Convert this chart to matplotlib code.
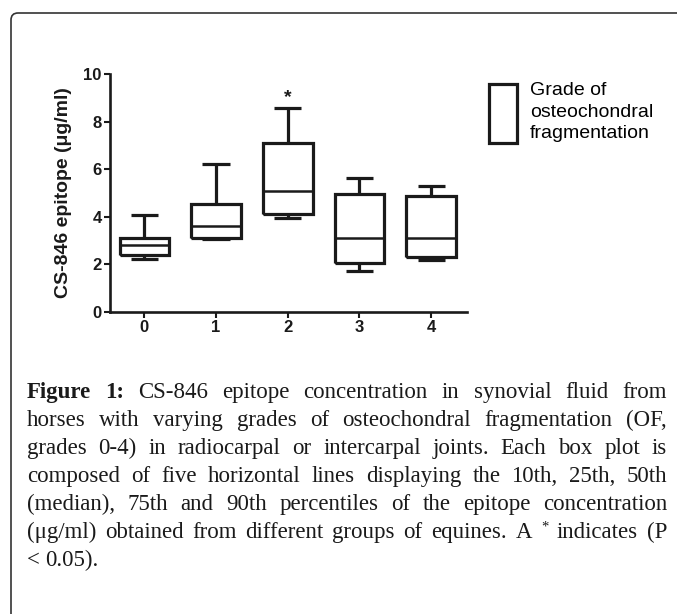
import matplotlib
matplotlib.use("Agg")
import matplotlib.pyplot as plt
from matplotlib.patches import FancyBboxPatch, Patch

###### DATA ######
grades = ['0', '1', '2', '3', '4']
p10 = [2.24, 3.08, 3.96, 1.74, 2.20]
p25 = [2.38, 3.11, 4.12, 2.04, 2.32]
p50 = [2.80, 3.60, 5.07, 3.11, 3.11]
p75 = [3.10, 4.52, 7.10, 4.97, 4.87]
p90 = [4.08, 6.23, 8.57, 5.63, 5.28]
significant = ['', '', '*', '', '']

y_ticks = [0, 2, 4, 6, 8, 10]
y_label = 'CS-846 epitope (\u03bcg/ml)'
legend_label = 'Grade of\nosteochondral\nfragmentation'

caption_lines = [
    'Figure 1: CS-846 epitope concentration in synovial fluid from',
    'horses with varying grades of osteochondral fragmentation (OF,',
    'grades 0-4) in radiocarpal or intercarpal joints. Each box plot is',
    'composed of five horizontal lines displaying the 10th, 25th, 50th',
    '(median), 75th and 90th percentiles of the epitope concentration',
    '(\u03bcg/ml) obtained from different groups of equines. A * indicates (P',
    '< 0.05).',
]

INK = '#1a1a1a'
W, H = 677, 614

###### FIGURE ######
fig = plt.figure(figsize=(W / 100, H / 100), dpi=100)
fig.patch.set_facecolor('white')

# outer rounded frame (pixel coords, cut by right/bottom edge)
frame = FancyBboxPatch((11, -30), 720, H - 13 + 30,
                       boxstyle='round,pad=0,rounding_size=7',
                       transform=None, fill=False, edgecolor='#333333', lw=1.2)
fig.patches.append(frame)

# axes placed in pixels
ax_l, ax_r, ax_b, ax_t = 110, 467, 312, 74
ax = fig.add_axes([ax_l / W, 1 - ax_b / H, (ax_r - ax_l) / W, (ax_b - ax_t) / H])

stats = []
for g, lo, q1, med, q3, hi in zip(grades, p10, p25, p50, p75, p90):
    stats.append(dict(label=g, whislo=lo, q1=q1, med=med, q3=q3, whishi=hi))

line_kw = dict(color=INK, lw=2.3, solid_capstyle='butt', solid_joinstyle='miter')
ax.bxp(stats, positions=range(len(grades)), widths=0.69, capwidths=0.38,
       showfliers=False,
       boxprops=line_kw, whiskerprops=line_kw, capprops=line_kw,
       medianprops=dict(color=INK, lw=1.8))

for i, mark in enumerate(significant):
    if mark:
        ax.text(i, p90[i] + 0.1, mark, ha='center', va='bottom',
                fontsize=14, fontweight='bold', color=INK, family='Liberation Sans')

ax.set_xlim(-0.48, 4.5)
ax.set_ylim(0, 10)
ax.set_yticks(y_ticks)
for side in ['top', 'right']:
    ax.spines[side].set_visible(False)
for side in ['left', 'bottom']:
    ax.spines[side].set_linewidth(1.9)
    ax.spines[side].set_color(INK)
ax.tick_params(direction='out', length=4.5, width=1.5, color=INK, pad=1.5)
for lab in ax.get_xticklabels() + ax.get_yticklabels():
    lab.set_fontsize(12)
    lab.set_fontweight('bold')
    lab.set_family('Liberation Sans')
    lab.set_color(INK)

ax.set_ylabel(y_label, fontsize=14, fontweight='bold', family='Liberation Sans',
              color=INK, va='center')
ax.yaxis.set_label_coords((63 - ax_l) / (ax_r - ax_l), 0.5)

# legend
leg = fig.legend(handles=[Patch(facecolor='white', edgecolor=INK, lw=2.3)],
                 labels=[legend_label], loc='upper left',
                 bbox_to_anchor=(489 / W, 1 - 82 / H), frameon=False,
                 handlelength=1.44, handleheight=4.3, handletextpad=0.67,
                 borderpad=0, borderaxespad=0,
                 prop=dict(family='Liberation Sans', size=14))
leg.get_texts()[0].set_linespacing(1.35)

###### CAPTION (justified) ######
renderer = fig.canvas.get_renderer()
cap_x0, cap_x1 = 27, 667
base0, gap = 398, 28
cap_kw = dict(family='Liberation Serif', color=INK)

for i, line in enumerate(caption_lines):
    y = 1 - (base0 + i * gap) / H
    words = line.split(' ')
    texts = []
    for j, w in enumerate(words):
        kw = dict(cap_kw, fontsize=16.5)
        yy = y
        if i == 0 and j < 2:
            kw['fontweight'] = 'bold'
        if w == '*':
            kw['fontsize'] = 10.5
            yy = y + 7 / H
        texts.append(fig.text(cap_x0 / W, yy, w, va='baseline', ha='left', **kw))
    widths = [t.get_window_extent(renderer).width for t in texts]
    last = i == len(caption_lines) - 1
    if last or len(words) == 1:
        space = 5
    else:
        space = (cap_x1 - cap_x0 - sum(widths)) / (len(words) - 1)
    x = cap_x0
    for t, wd in zip(texts, widths):
        t.set_x(x / W)
        x += wd + space

fig.savefig('out.png', dpi=100, facecolor='white')
